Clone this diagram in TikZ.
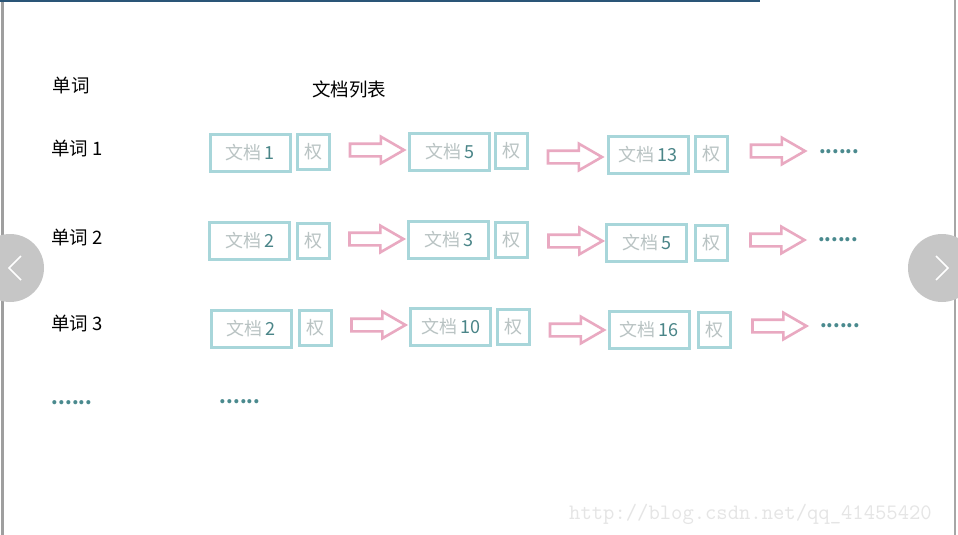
\documentclass[tikz,border=0pt]{standalone}
\usepackage{fontspec}
\setmainfont{Noto Sans CJK SC}
\usetikzlibrary{shapes.arrows}
\definecolor{boxc}{HTML}{A8D6DA}
\definecolor{lightt}{HTML}{B9C3C3}
\definecolor{numc}{HTML}{4A8588}
\definecolor{arrc}{HTML}{E9A9C1}
\definecolor{dotc}{HTML}{4A8A8E}
\definecolor{navc}{HTML}{C6C6C6}
\definecolor{topc}{HTML}{2A5577}
\tikzset{
  docbox/.style={draw=boxc, line width=3pt, minimum width=80pt, minimum height=37pt, inner sep=0pt, font=\fontsize{18}{20}\selectfont},
  wbox/.style={draw=boxc, line width=3pt, minimum width=32pt, minimum height=35pt, inner sep=0pt, text=lightt, font=\fontsize{18}{20}\selectfont},
  parr/.style={shape=single arrow, draw=arrc, line width=2.6pt, inner sep=5pt, single arrow head extend=7pt, single arrow tip angle=60, minimum height=54pt, anchor=center},
  lbl/.style={font=\fontsize{18.5}{20}\selectfont, text=black, inner sep=0pt},
  dots/.style={text=dotc, font=\fontsize{19}{20}\selectfont\bfseries, inner sep=0pt},
}
\newcommand{\doc}[1]{\textcolor{lightt}{文档}\,\textcolor{numc}{#1}}
\begin{document}
\begin{tikzpicture}[x=1pt,y=-1pt]
\useasboundingbox[fill=white] (0,0) rectangle (958,535);
% frame edges
\draw[line width=3pt, gray!75] (2.5,0) -- (2.5,535);
\draw[line width=2pt, gray!70] (955,0) -- (955,535);
\draw[line width=2pt, topc] (0,1) -- (760,1);
% headers
\node[lbl] (h1) at (71,86) {单词};
\node[lbl] (h2) at (349,89) {文档列表};
\node[lbl] (w1) at (77,149) {单词 1};
\node[lbl] (w2) at (77,238) {单词 2};
\node[lbl] (w3) at (77,324) {单词 3};
% row 1
\node[docbox] (a1) at (250,153) {\doc{1}};
\node[wbox] (a1w) at (313.5,152) {权};
\node[parr] (r1a) at (371.5,150) {};
\node[docbox] (b1) at (449.5,152) {\doc{5}};
\node[wbox] (b1w) at (511.5,151) {权};
\node[parr] (r1b) at (569.5,157) {};
\node[docbox] (c1) at (648,154.5) {\doc{13}};
\node[wbox] (c1w) at (711.5,154) {权};
\node[parr] (r1c) at (772.5,151) {};
\node[dots] (d1) at (839,152) {......};
% row 2
\node[docbox] (a2) at (249.5,241) {\doc{2}};
\node[wbox] (a2w) at (313,241) {权};
\node[parr] (r2a) at (371,239) {};
\node[docbox] (b2) at (448.5,240) {\doc{3}};
\node[wbox] (b2w) at (511,240) {权};
\node[parr] (r2b) at (570,241) {};
\node[docbox] (c2) at (646.5,243) {\doc{5}};
\node[wbox] (c2w) at (711,243) {权};
\node[parr] (r2c) at (772,240) {};
\node[dots] (d2) at (838,240) {......};
% row 3
\node[docbox] (a3) at (251,329) {\doc{2}};
\node[wbox] (a3w) at (315,328) {权};
\node[parr] (r3a) at (373,325) {};
\node[docbox] (b3) at (450.5,327) {\doc{10}};
\node[wbox] (b3w) at (513.5,327) {权};
\node[parr] (r3b) at (571.5,330) {};
\node[docbox] (c3) at (649,330) {\doc{16}};
\node[wbox] (c3w) at (714,330) {权};
\node[parr] (r3c) at (774,326) {};
\node[dots] (d3) at (840,326) {......};
% bottom dots
\node[dots] (d4) at (72,403) {......};
\node[dots] (d5) at (240,402) {......};
% navigation circles
\fill[navc] (10,268) circle (34);
\draw[white, line width=1.6pt] (21,256) -- (9,268) -- (21,280);
\fill[navc] (942,268) circle (34);
\draw[white, line width=1.6pt] (936,256) -- (948,268) -- (936,280);
% watermark
\node[font=\fontspec{Latin Modern Mono}\fontsize{22}{24}\selectfont, text=black!10, inner sep=0pt, anchor=west] (wm) at (569,514) {http://blog.csdn.net/qq\_41455420};
\end{tikzpicture}
\end{document}
